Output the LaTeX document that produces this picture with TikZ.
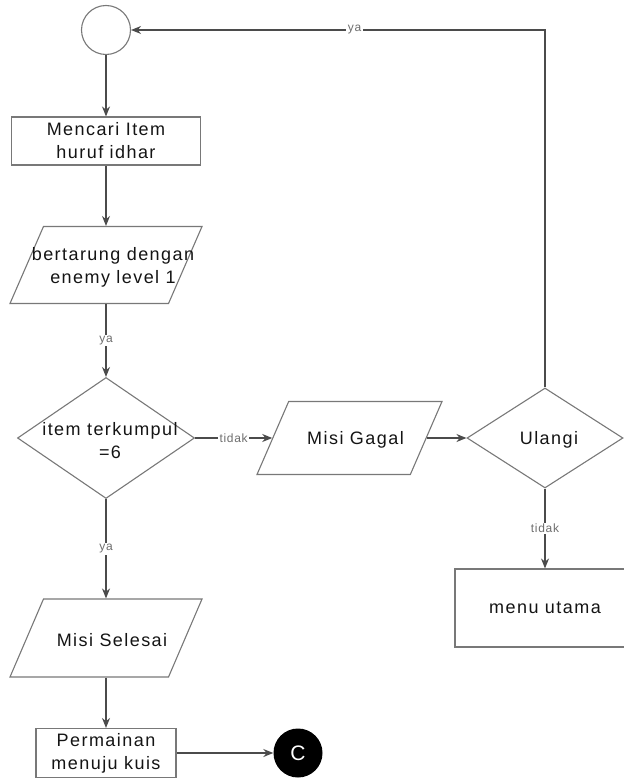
\documentclass[tikz,border=0pt]{standalone}
\usepackage{fontspec}
\setmainfont{Liberation Sans}
\newfontfamily\flowfont[LetterSpace=8]{Liberation Sans}
\newfontfamily\tagfont[LetterSpace=6]{Liberation Sans}
\usetikzlibrary{arrows.meta,positioning,shapes.geometric}
\definecolor{fcline}{RGB}{75,75,75}
\definecolor{fcedge}{RGB}{120,120,120}
\definecolor{fctag}{RGB}{110,110,110}
\definecolor{fctext}{RGB}{20,20,20}

\begin{document}
\begin{tikzpicture}[x=1pt,y=-1pt,
  base/.style={draw=fcedge,line width=1.1pt,inner sep=1pt,text=fctext,
    font=\flowfont\fontsize{18}{23}\selectfont,align=center},
  procbox/.style={base,rectangle},
  iobox/.style={base,trapezium,trapezium left angle=75,trapezium right angle=105,
    trapezium stretches=true},
  decision/.style={base,diamond},
  txt/.style={font=\flowfont\fontsize{18}{23}\selectfont,align=center,text=fctext,inner sep=0pt},
  flow/.style={-{Stealth[length=10pt,width=8pt]},draw=fcline,line width=1.1pt},
  tag/.style={font=\tagfont\fontsize{12}{14}\selectfont,text=fctag,fill=white,inner sep=1.5pt}]
  \useasboundingbox (0,0) rectangle (623,778);

  % left column
  \node[base,circle,minimum size=49pt] (start) at (106,30) {};
  \node[procbox,minimum width=189pt,minimum height=48pt] (cari) at (106,141) {Mencari Item\\huruf idhar};
  \node[iobox,minimum width=192pt,minimum height=77pt] (tarung) at (106,265) {};
  \node[txt,xshift=7pt,yshift=-2pt] (tarungtxt) at (tarung) {bertarung dengan\\enemy level 1};
  \node[decision,minimum width=177pt,minimum height=121pt] (cek) at (106,438) {};
  \node[txt,xshift=4pt,yshift=-3pt] (cektxt) at (cek) {item terkumpul\\=6};
  \node[iobox,minimum width=192pt,minimum height=78pt] (selesai) at (106,638) {};
  \node[txt,xshift=6pt,yshift=-2pt] (selesaitxt) at (selesai) {Misi Selesai};
  \node[procbox,minimum width=140pt,minimum height=49pt] (kuis) at (106,753) {Permainan\\menuju kuis};
  \node[circle,fill=black,minimum size=49pt,inner sep=0pt,text=white,
    font=\fontsize{21}{24}\selectfont] (akhir) at (298,753) {C};

  % right part
  \node[iobox,minimum width=185pt,minimum height=73pt,trapezium left angle=75.4,
    trapezium right angle=104.6] (gagal) at (349.5,438) {};
  \node[txt,xshift=6pt,yshift=-2pt] (gagaltxt) at (gagal) {Misi Gagal};
  \node[decision,minimum width=156pt,minimum height=100pt] (ulangi) at (545,438) {};
  \node[txt,xshift=4pt,yshift=-2pt] (ulangitxt) at (ulangi) {Ulangi};
  \node[procbox,minimum width=180pt,minimum height=78pt] (menu) at (545,608) {menu utama};

  \draw[flow] (start) -- (cari);
  \draw[flow] (cari) -- (tarung);
  \draw[flow] (tarung) -- node[tag]{ya} (cek);
  \draw[flow] (cek) -- node[tag]{tidak} (gagal);
  \draw[flow] (gagal) -- (ulangi);
  \draw[flow] (ulangi.north) |- node[tag,pos=0.73]{ya} (start.east);
  \draw[flow] (ulangi) -- node[tag]{tidak} (menu);
  \draw[flow] (cek) -- node[tag]{ya} (selesai);
  \draw[flow] (selesai) -- (kuis);
  \draw[flow] (kuis) -- (akhir);
\end{tikzpicture}
\end{document}
